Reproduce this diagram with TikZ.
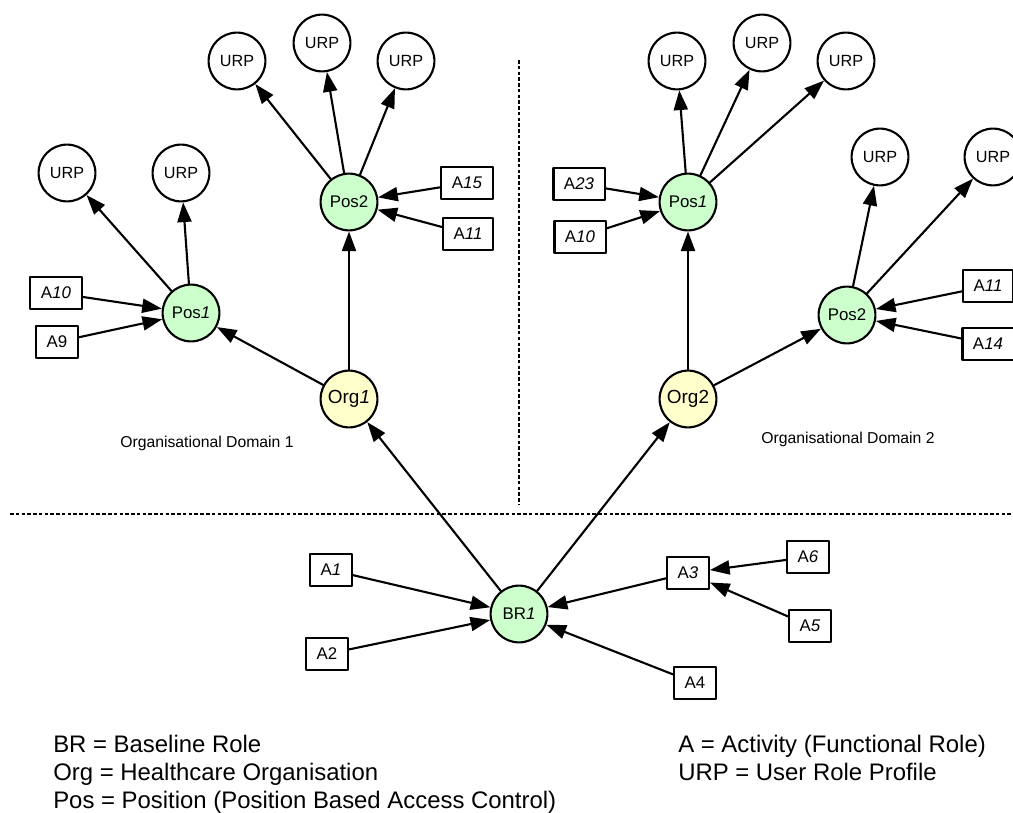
\documentclass[tikz,border=0pt]{standalone}
\usepackage{fontspec}
\setmainfont{Liberation Sans}
\usetikzlibrary{arrows.meta}
\definecolor{posgreen}{RGB}{204,255,204}
\definecolor{orgyellow}{RGB}{255,255,204}

\begin{document}
\begin{tikzpicture}[line cap=round,line join=round,>={Triangle[length=14pt,width=10pt]},x=0.025cm,y=-0.025cm,
urpnode/.style={circle,draw,line width=1.5pt,fill=white,minimum size=1.42cm,inner sep=0pt,font=\fontsize{11.5}{13}\selectfont},
posnode/.style={urpnode,fill=posgreen,font=\fontsize{12}{14}\selectfont},
orgnode/.style={urpnode,fill=orgyellow,font=\fontsize{13.5}{15}\selectfont},
actbox/.style={rectangle,draw,line width=1.5pt,fill=white,minimum height=0.82cm,inner xsep=7.5pt,font=\fontsize{12}{14}\selectfont},
linkarrow/.style={->,line width=1.5pt},
divider/.style={line width=1.3pt,dash pattern=on 2.5pt off 1.6pt,line cap=butt},
domlabel/.style={font=\fontsize{11.2}{13}\selectfont},
legendtext/.style={anchor=base west,inner sep=0pt,font=\fontsize{17}{20}\selectfont}]
\useasboundingbox (0,0) rectangle (1013,813);
\draw[divider] (519,60) -- (519,505);
\draw[divider] (10,514) -- (1013,514);
\node[posnode] (br) at (519,614) {BR\textit{1}};
\node[orgnode] (orga) at (349,399) {Org\textit{1}};
\node[orgnode] (orgb) at (688,399) {Org2};
\node[posnode] (posal) at (191,313) {Pos\textit{1}};
\node[posnode] (posbl) at (349,202) {Pos2};
\node[posnode] (posar) at (688,202) {Pos\textit{1}};
\node[posnode] (posbr) at (847,315) {Pos2};
\node[urpnode] (urpa) at (237,61) {URP};
\node[urpnode] (urpb) at (322,43) {URP};
\node[urpnode] (urpc) at (406,61) {URP};
\node[urpnode] (urpd) at (67,173) {URP};
\node[urpnode] (urpe) at (181,173) {URP};
\node[urpnode] (urpf) at (677,61) {URP};
\node[urpnode] (urpg) at (762,43) {URP};
\node[urpnode] (urph) at (846,61) {URP};
\node[urpnode] (urpi) at (880,157) {URP};
\node[urpnode] (urpj) at (993,157) {URP};
\node[actbox] (actfifteen) at (467,183) {A\textit{15}};
\node[actbox] (actelevenl) at (468,234) {A\textit{11}};
\node[actbox] (acttenl) at (56,293) {A\textit{10}};
\node[actbox] (actnine) at (57,342) {A9};
\node[actbox] (acttwentythree) at (579,184) {A\textit{23}};
\node[actbox] (acttenr) at (580,237) {A\textit{10}};
\node[actbox] (actelevenr) at (988,286) {A\textit{11}};
\node[actbox] (actfourteen) at (988,344) {A\textit{14}};
\node[actbox] (actone) at (331,570) {A\textit{1}};
\node[actbox] (acttwo) at (327,654) {A2};
\node[actbox] (actthree) at (688,573) {A\textit{3}};
\node[actbox] (actfour) at (695,683) {A4};
\node[actbox] (actfive) at (810,626) {A\textit{5}};
\node[actbox] (actsix) at (808,557) {A\textit{6}};
\draw[linkarrow] (br) -- (orga);
\draw[linkarrow] (br) -- (orgb);
\foreach \a in {actone,acttwo,actthree,actfour}
\draw[linkarrow] (\a) -- (br);
\draw[linkarrow] (actsix) -- (actthree);
\draw[linkarrow] (actfive) -- (actthree);
\draw[linkarrow] (orga) -- (posal);
\draw[linkarrow] (orga) -- (posbl);
\draw[linkarrow] (orgb) -- (posar);
\draw[linkarrow] (orgb) -- (posbr);
\foreach \u in {urpa,urpb,urpc}
\draw[linkarrow] (posbl) -- (\u);
\foreach \u in {urpd,urpe}
\draw[linkarrow] (posal) -- (\u);
\foreach \u in {urpf,urpg,urph}
\draw[linkarrow] (posar) -- (\u);
\foreach \u in {urpi,urpj}
\draw[linkarrow] (posbr) -- (\u);
\draw[linkarrow] (actfifteen) -- (posbl);
\draw[linkarrow] (actelevenl) -- (posbl);
\draw[linkarrow] (acttenl) -- (posal);
\draw[linkarrow] (actnine) -- (posal);
\draw[linkarrow] (acttwentythree) -- (posar);
\draw[linkarrow] (acttenr) -- (posar);
\draw[linkarrow] (actelevenr) -- (posbr);
\draw[linkarrow] (actfourteen) -- (posbr);
\node[domlabel] (doma) at (207,443) {Organisational Domain 1};
\node[domlabel] (domb) at (848,439) {Organisational Domain 2};
\node[legendtext] (keybr) at (53,752) {BR = Baseline Role};
\node[legendtext] (keyorg) at (53,780) {Org = Healthcare Organisation};
\node[legendtext] (keypos) at (53,808) {Pos = Position (Position Based Access Control)};
\node[legendtext] (keyact) at (678,752) {A = Activity (Functional Role)};
\node[legendtext] (keyurp) at (678,780) {URP = User Role Profile};
\end{tikzpicture}
\end{document}
